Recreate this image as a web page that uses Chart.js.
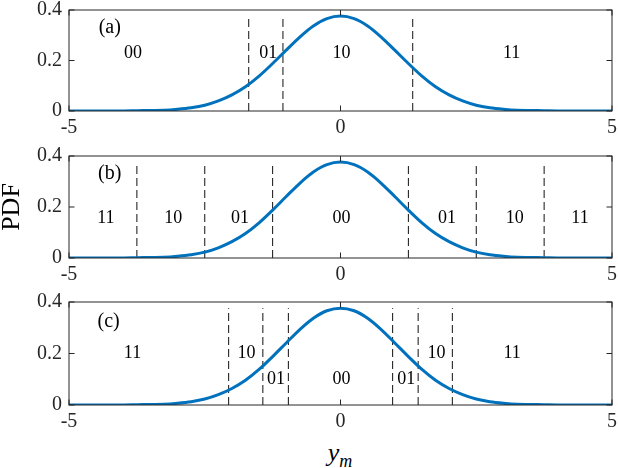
<!DOCTYPE html>
<html><head><meta charset="utf-8">
<script src="https://cdn.jsdelivr.net/npm/chart.js@4/dist/chart.umd.min.js"></script>
<style>
html,body{margin:0;padding:0;background:#fff;width:618px;height:468px;overflow:hidden;position:relative;}
canvas{position:absolute;left:0;}
.lab{position:absolute;font-family:"Liberation Serif",serif;color:#000;}
</style></head><body>
<canvas id="ca" style="top:-4px" width="618" height="150"></canvas>
<canvas id="cb" style="top:142px" width="618" height="150"></canvas>
<canvas id="cc" style="top:288px" width="618" height="150"></canvas>
<div class="lab" id="pdf" style="left:-24px;top:192px;width:70px;text-align:center;font-size:26px;line-height:30px;transform:rotate(-90deg);">PDF</div>
<div class="lab" style="left:305px;top:438px;width:70px;text-align:center;font-size:26px;font-style:italic;">y<sub style="font-size:18px;">m</sub></div>
<script>
// ---- data ----
const xVals = [-5,-4.75,-4.5,-4.25,-4,-3.75,-3.5,-3.25,-3,-2.75,-2.5,-2.25,-2,-1.75,-1.5,-1.25,-1,-0.75,-0.5,-0.25,0,
  0.25,0.5,0.75,1,1.25,1.5,1.75,2,2.25,2.5,2.75,3,3.25,3.5,3.75,4,4.25,4.5,4.75,5];
const pdfVals = [0,0,0,0,0,0.001,0.002,0.003,0.007,0.013,0.023,0.040,0.064,0.096,0.138,0.188,0.241,0.293,0.337,0.366,0.376,
  0.366,0.337,0.293,0.241,0.188,0.138,0.096,0.064,0.040,0.023,0.013,0.007,0.003,0.002,0.001,0,0,0,0,0];
const xTickVals = [-5, 0, 5];
const xTickLabels = ['-5', '0', '5'];
const yTickVals = [0, 0.2, 0.4];
const yTickLabels = ['0', '0.2', '0.4'];
const boundTop = 0.376;

const boundsA = [-1.69, -1.06, 1.33];
const boundsB = [-3.75, -2.5, -1.25, 1.25, 2.5, 3.75];
const boundsC = [-2.06, -1.43, -0.96, 0.96, 1.43, 2.06];

const labelsA = ['00', '01', '10', '11'];
const labelXA = [-3.82, -1.33, 0.02, 3.15];
const labelYA = [0.23, 0.23, 0.23, 0.23];

const labelsB = ['11', '10', '01', '00', '01', '10', '11'];
const labelXB = [-4.32, -3.08, -1.85, 0.02, 1.96, 3.21, 4.41];
const labelYB = [0.157, 0.157, 0.157, 0.157, 0.157, 0.157, 0.157];

const labelsC = ['11', '10', '01', '00', '01', '10', '11'];
const labelXC = [-3.83, -1.73, -1.19, 0.02, 1.21, 1.77, 3.16];
const labelYC = [0.2, 0.2, 0.1, 0.1, 0.1, 0.2, 0.2];

const panelTags = ['(a)', '(b)', '(c)'];
const panelTagX = [-4.25, -4.25, -4.27];
const panelTagY = [0.33, 0.33, 0.325];

// ---- drawing ----
const AX = '#262626';
const serif = '"Liberation Serif", serif';

const frame = {
  id: 'frame',
  afterDatasetsDraw(chart, args, opts) {
    const {ctx, chartArea: a, scales: {x, y}} = chart;
    ctx.save();
    ctx.strokeStyle = AX; ctx.lineWidth = 1;
    ctx.strokeRect(a.left, a.top, a.right - a.left, a.bottom - a.top);
    ctx.beginPath();
    xTickVals.forEach(v => {
      const p = x.getPixelForValue(v);
      ctx.moveTo(p, a.bottom); ctx.lineTo(p, a.bottom - 5.5);
      ctx.moveTo(p, a.top); ctx.lineTo(p, a.top + 5.5);
    });
    yTickVals.forEach(v => {
      const p = y.getPixelForValue(v);
      ctx.moveTo(a.left, p); ctx.lineTo(a.left + 5.5, p);
      ctx.moveTo(a.right, p); ctx.lineTo(a.right - 5.5, p);
    });
    ctx.stroke();
    ctx.fillStyle = '#000';
    ctx.textAlign = 'center'; ctx.textBaseline = 'middle';
    ctx.font = '18px ' + serif;
    opts.texts.forEach((t, i) => {
      ctx.fillText(t, x.getPixelForValue(opts.tx[i]), y.getPixelForValue(opts.ty[i]));
    });
    ctx.font = '20px ' + serif;
    ctx.fillText(opts.tag, x.getPixelForValue(opts.tagX), y.getPixelForValue(opts.tagY));
    ctx.restore();
  }
};

function makePanel(id, bounds, texts, tx, ty, idx, xAxisH) {
  const datasets = [{
    data: xVals.map((v, i) => ({x: v, y: pdfVals[i]})),
    borderColor: '#0072BD', borderWidth: 3, pointRadius: 0,
    cubicInterpolationMode: 'monotone', fill: false
  }];
  bounds.forEach(b => datasets.push({
    data: [{x: b, y: 0}, {x: b, y: boundTop}],
    borderColor: '#111111', borderWidth: 1, borderDash: [8, 4], pointRadius: 0, fill: false
  }));
  new Chart(document.getElementById(id), {
    type: 'line',
    data: {datasets},
    plugins: [frame],
    options: {
      responsive: false, animation: false, devicePixelRatio: 1,
      layout: {padding: {top: 14, right: 6, left: 0, bottom: 0}},
      plugins: {legend: {display: false}, tooltip: {enabled: false},
        frame: {texts, tx, ty, tag: panelTags[idx], tagX: panelTagX[idx], tagY: panelTagY[idx]}},
      scales: {
        x: {type: 'linear', min: -5, max: 5,
          grid: {display: false, drawTicks: false}, border: {display: false},
          afterBuildTicks: s => { s.ticks = xTickVals.map(v => ({value: v})); },
          afterFit: s => { s.height = xAxisH; s.paddingLeft = 0; s.paddingRight = 0; },
          ticks: {padding: 5, color: AX, font: {family: serif, size: 20},
            callback: (v) => xTickLabels[xTickVals.indexOf(v)], maxRotation: 0}},
        y: {type: 'linear', min: 0, max: 0.4,
          grid: {display: false, drawTicks: false}, border: {display: false},
          afterBuildTicks: s => { s.ticks = yTickVals.map(v => ({value: v})); },
          afterFit: s => { s.width = 69; s.paddingTop = 0; s.paddingBottom = 0; },
          ticks: {padding: 7, color: AX, font: {family: serif, size: 20},
            callback: (v) => yTickLabels[yTickVals.indexOf(v)]}}
      }
    }
  });
}
makePanel('ca', boundsA, labelsA, labelXA, labelYA, 0, 35);
makePanel('cb', boundsB, labelsB, labelXB, labelYB, 1, 34);
makePanel('cc', boundsC, labelsC, labelXC, labelYC, 2, 33);
</script>
</body></html>
